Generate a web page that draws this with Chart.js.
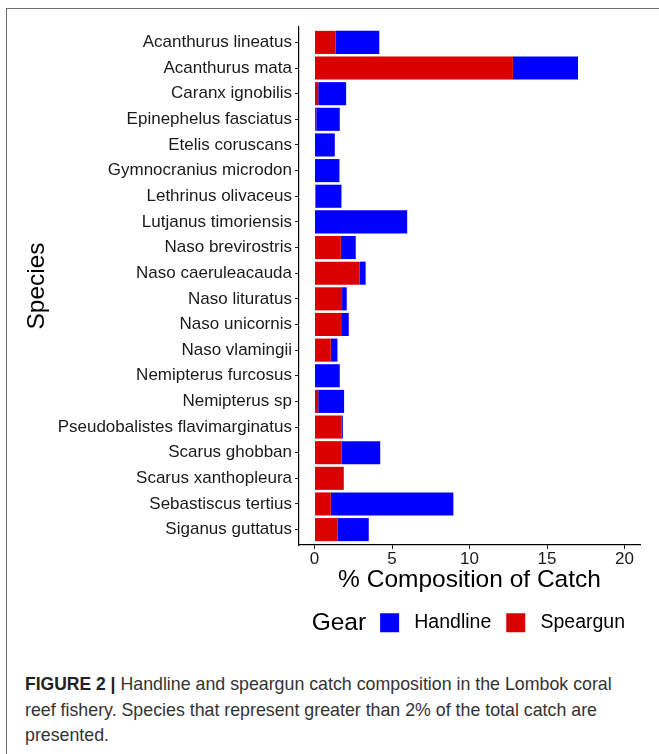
<!DOCTYPE html>
<html>
<head>
<meta charset="utf-8">
<script src="https://cdn.jsdelivr.net/npm/chart.js@4.4.0/dist/chart.umd.min.js"></script>
<style>
  body { margin: 0; background: #fff; width: 659px; height: 754px; overflow: hidden; position: relative; font-family: "Liberation Sans", Arial, sans-serif; }
  .frame { position: absolute; left: 6px; top: 8px; width: 700px; height: 800px; border: 1px solid #6b6b6b; }
  #chart { position: absolute; left: 0; top: 0; }
  .caption { position: absolute; left: 25px; top: 672px; font-size: 17.8px; line-height: 25.5px; color: #333; white-space: nowrap; }
  .caption b { color: #222; font-size: 17.5px; }
</style>
</head>
<body>
<div class="frame"></div>
<canvas id="chart" width="659" height="650"></canvas>
<div class="caption"><b>FIGURE 2 |</b> Handline and speargun catch composition in the Lombok coral<br>reef fishery. Species that represent greater than 2% of the total catch are<br>presented.</div>
<script>
const species = [
    'Acanthurus lineatus', 'Acanthurus mata', 'Caranx ignobilis', 'Epinephelus fasciatus',
    'Etelis coruscans', 'Gymnocranius microdon', 'Lethrinus olivaceus', 'Lutjanus timoriensis',
    'Naso brevirostris', 'Naso caeruleacauda', 'Naso lituratus', 'Naso unicornis',
    'Naso vlamingii', 'Nemipterus furcosus', 'Nemipterus sp', 'Pseudobalistes flavimarginatus',
    'Scarus ghobban', 'Scarus xanthopleura', 'Sebastiscus tertius', 'Siganus guttatus'
];
const speargun = [1.35, 12.8, 0.24, 0.11, 0, 0, 0.07, 0, 1.70, 2.92, 1.78, 1.72, 1.05, 0, 0.24, 1.76, 1.74, 1.89, 1.05, 1.50];
const handline = [2.83, 4.2, 1.80, 1.52, 1.31, 1.61, 1.67, 5.98, 0.96, 0.38, 0.30, 0.49, 0.43, 1.63, 1.67, 0.07, 2.50, 0, 7.91, 2.00];
const xTicks = [0, 5, 10, 15, 20];

Chart.defaults.font.family = '"Liberation Sans", Arial, sans-serif';

// "Gear" heading sits inline, left of the legend boxes (ggplot style)
const gearTitle = {
    id: 'gearTitle',
    afterDraw(chart) {
        const box = chart.legend.legendHitBoxes[0];
        const ctx = chart.ctx;
        ctx.save();
        ctx.font = '24.5px "Liberation Sans"';
        ctx.fillStyle = '#000';
        ctx.textAlign = 'right';
        ctx.textBaseline = 'middle';
        ctx.fillText('Gear', box.left - 14, box.top + box.height / 2);
        ctx.restore();
    }
};

const toPoints = (vals) => vals.map((v, i) => ({ x: v, y: i }));

const ctx = document.getElementById('chart');

new Chart(ctx, {
    type: 'bar',
    data: {
        datasets: [{
            label: 'Speargun',
            data: toPoints(speargun),
            backgroundColor: '#da0000',
            borderWidth: 0
        }, {
            label: 'Handline',
            data: toPoints(handline),
            backgroundColor: '#0000ff',
            borderWidth: 0
        }]
    },
    options: {
        indexAxis: 'y',
        responsive: false,
        animation: false,
        categoryPercentage: 1,
        barPercentage: 0.9,
        layout: { padding: { top: 27, right: 19, bottom: 7.5, left: 0 } },
        scales: {
            x: {
                type: 'linear',
                stacked: true,
                min: -1,
                max: 21,
                afterBuildTicks: (s) => { s.ticks = xTicks.map((v) => ({ value: v })); },
                afterFit: (s) => { s.height = 53; },
                grid: { drawOnChartArea: false, drawTicks: true, tickLength: 4, color: '#222' },
                border: { display: true, color: '#000', width: 1.2 },
                ticks: { color: '#1a1a1a', font: { size: 17 }, padding: 0 },
                title: {
                    display: true,
                    text: '% Composition of Catch',
                    color: '#000',
                    font: { size: 24.5 },
                    padding: { top: 0, bottom: 3 }
                }
            },
            y: {
                type: 'linear',
                stacked: true,
                reverse: true,
                offset: false,
                min: -0.6,
                max: 19.6,
                afterBuildTicks: (s) => { s.ticks = species.map((_, i) => ({ value: i })); },
                afterFit: (s) => { s.width = 299; },
                grid: { offset: false, drawOnChartArea: false, drawTicks: true, tickLength: 4, color: '#222' },
                border: { display: true, color: '#000', width: 1.2 },
                ticks: {
                    color: '#1a1a1a',
                    font: { size: 17 },
                    padding: 3,
                    autoSkip: false,
                    callback: (v) => species[v]
                },
                title: {
                    display: true,
                    text: 'Species',
                    color: '#000',
                    font: { size: 24.5 },
                    padding: { top: 23, bottom: 0 }
                }
            }
        },
        plugins: {
            tooltip: { enabled: false },
            legend: {
                position: 'bottom',
                align: 'end',
                fullSize: false,
                reverse: true,
                labels: {
                    boxWidth: 19,
                    boxHeight: 19,
                    padding: 15,
                    color: '#000',
                    font: { size: 19.5 },
                    generateLabels: (chart) => Chart.defaults.plugins.legend.labels.generateLabels(chart)
                        .map((item) => ({ ...item, text: ' ' + item.text }))
                }
            }
        }
    },
    plugins: [gearTitle]
});
</script>
</body>
</html>
